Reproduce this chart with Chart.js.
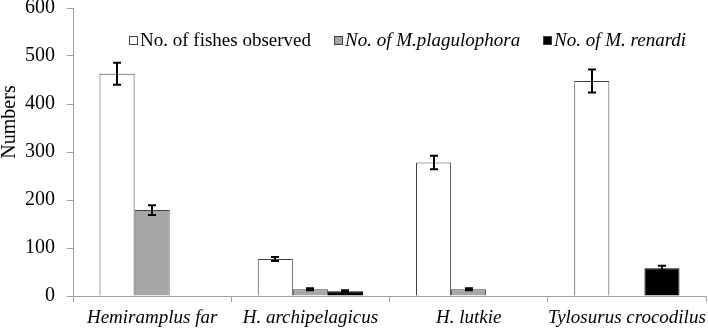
<!DOCTYPE html>
<html>
<head>
<meta charset="utf-8">
<script src="https://cdn.jsdelivr.net/npm/chart.js@4/dist/chart.umd.min.js"></script>
<style>
  body { margin: 0; background: #fff; }
  #wrap { width: 708px; height: 330px; }
</style>
</head>
<body>
<div id="wrap"><canvas id="chart" width="708" height="330"></canvas></div>
<script>
var categories = ['Hemiramplus far', 'H. archipelagicus', 'H. lutkie', 'Tylosurus crocodilus'];
var fishes = [463, 77, 278, 448];
var fishesErr = [23, 4, 14, 24];
var plagulophora = [179, 14, 14, null];
var plagulophoraErr = [10, 2, 2, null];
var renardi = [null, 10, null, 58];
var renardiErr = [null, 2, null, 5];
var yTicks = [0, 100, 200, 300, 400, 500, 600];

var serif = "'Liberation Serif', 'DejaVu Serif', serif";

// error bars + legend + y title drawn on top
var extras = {
    id: 'extras',
    afterDatasetsDraw: function(chart){
        var ctx = chart.ctx, y = chart.scales.y;
        ctx.save();
        ctx.strokeStyle = '#000';
        ctx.lineWidth = 2;
        chart.data.datasets.forEach(function(ds, di){
            var meta = chart.getDatasetMeta(di);
            ds.err.forEach(function(e, i){
                if (e == null || ds.data[i] == null) return;
                var x = Math.round(meta.data[i].x);
                var top = y.getPixelForValue(ds.data[i] + e);
                var bot = y.getPixelForValue(ds.data[i] - e);
                ctx.beginPath();
                ctx.moveTo(x, top); ctx.lineTo(x, bot);
                ctx.moveTo(x - 4, top); ctx.lineTo(x + 4, top);
                ctx.moveTo(x - 4, bot); ctx.lineTo(x + 4, bot);
                ctx.stroke();
            });
        });

        // legend
        var items = [
            {text: 'No. of fishes observed', italic: false, x: 129},
            {text: 'No. of M.plagulophora', italic: true, x: 334},
            {text: 'No. of M. renardi', italic: true, x: 543}
        ];
        ctx.lineWidth = 1;
        ctx.textBaseline = 'middle';
        items.forEach(function(it, i){
            var ds = chart.data.datasets[i];
            ctx.fillStyle = ds.backgroundColor;
            ctx.strokeStyle = '#404040';
            ctx.fillRect(it.x, 36, 9, 9);
            ctx.strokeRect(it.x + 0.5, 36.5, 8, 8);
            ctx.fillStyle = '#000';
            ctx.font = (it.italic ? 'italic ' : '') + '19px ' + serif;
            ctx.fillText(it.text, it.x + 11, 41);
        });

        // y axis title
        ctx.translate(10, 122);
        ctx.rotate(-Math.PI / 2);
        ctx.textAlign = 'center';
        ctx.font = '20px ' + serif;
        ctx.fillText('Numbers', 0, 0);
        ctx.restore();
    }
};

new Chart(document.getElementById('chart'), {
    type: 'bar',
    data: {
        labels: categories,
        datasets: [
            {
                label: 'No. of fishes observed',
                data: fishes,
                err: fishesErr,
                backgroundColor: '#ffffff',
                borderColor: '#404040',
                borderWidth: 1
            },
            {
                label: 'No. of M.plagulophora',
                data: plagulophora,
                err: plagulophoraErr,
                backgroundColor: '#a6a6a6',
                borderColor: '#404040',
                borderWidth: 1
            },
            {
                label: 'No. of M. renardi',
                data: renardi,
                err: renardiErr,
                backgroundColor: '#000000',
                borderColor: '#000000',
                borderWidth: 1
            }
        ]
    },
    options: {
        responsive: false,
        animation: false,
        layout: { padding: { top: 8, right: 2, left: 0, bottom: 0 } },
        datasets: {
            bar: { categoryPercentage: 0.665, barPercentage: 1, skipNull: false }
        },
        plugins: {
            legend: { display: false },
            tooltip: { enabled: false }
        },
        scales: {
            x: {
                grid: { display: true, drawOnChartArea: false, offset: true, tickLength: 6, color: '#a0a0a0' },
                border: { color: '#a0a0a0' },
                ticks: {
                    color: '#000',
                    padding: 5,
                    maxRotation: 0,
                    minRotation: 0,
                    autoSkip: false,
                    font: { family: serif, style: 'italic', size: 19 }
                },
                afterFit: function(s){ s.height = 34; s.paddingLeft = 0; s.paddingRight = 0; }
            },
            y: {
                min: 0,
                max: 600,
                afterBuildTicks: function(s){ s.ticks = yTicks.map(function(v){ return {value: v}; }); },
                grid: { display: true, drawOnChartArea: false, tickLength: 6, color: '#a0a0a0' },
                border: { color: '#a0a0a0' },
                ticks: {
                    color: '#000',
                    padding: 12,
                    font: { family: serif, size: 20 }
                },
                afterFit: function(s){ s.width = 73; s.paddingTop = 0; s.paddingBottom = 0; }
            }
        }
    },
    plugins: [extras]
});
</script>
</body>
</html>
